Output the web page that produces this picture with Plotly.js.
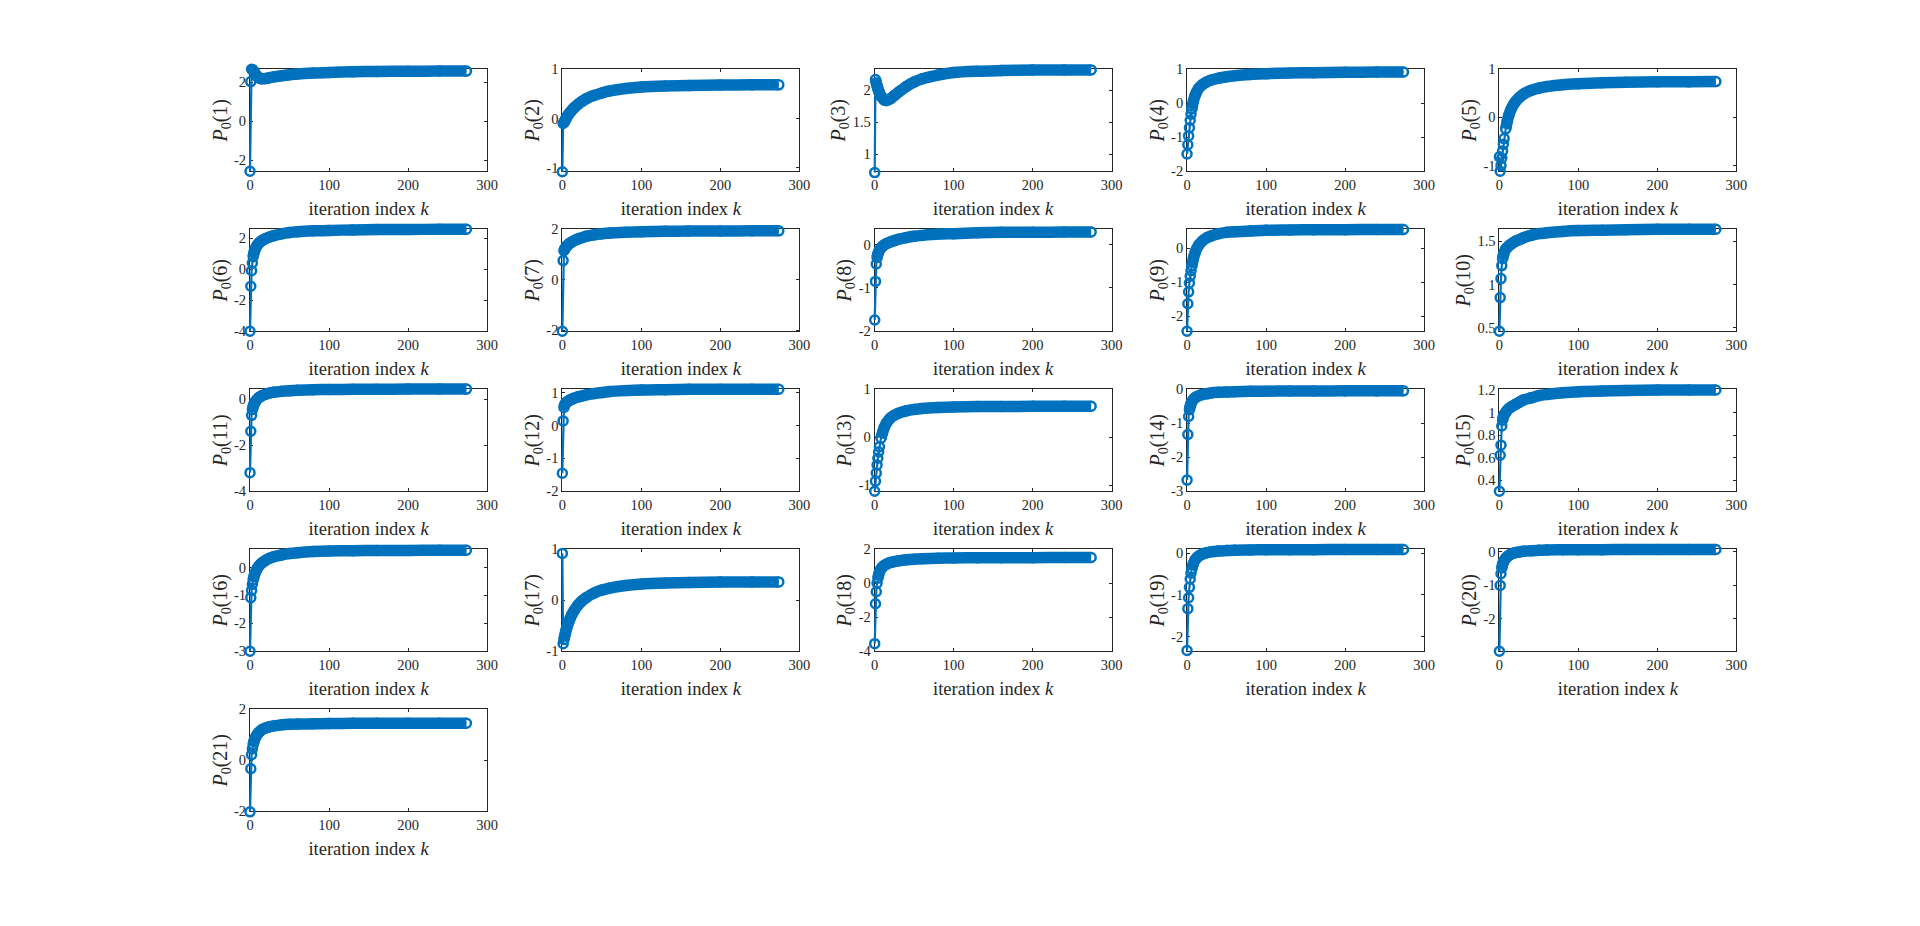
<!DOCTYPE html>
<html>
<head>
<meta charset="utf-8">
<script src="https://cdn.plot.ly/plotly-3.0.1.min.js"></script>
<style>html,body{margin:0;padding:0;background:#fff;}#plot{width:1920px;height:926px;}</style>
</head>
<body>
<div id="plot"></div>
<script>
// iteration indices at which values were read
const K = [0,1,2,3,4,5,6,8,10,12,15,20,25,30,40,50,60,80,100,130,160,200,240,274];

const P01 = [-2.57,2.03,2.66,2.64,2.60,2.54,2.47,2.35,2.26,2.21,2.18,2.19,2.23,2.27,2.33,2.38,2.42,2.47,2.50,2.53,2.55,2.56,2.57,2.57];
const P02 = [-1.08,-0.10,-0.08,-0.05,-0.02,0.01,0.04,0.09,0.13,0.17,0.22,0.29,0.35,0.40,0.47,0.52,0.56,0.61,0.64,0.66,0.67,0.68,0.685,0.685];
const P03 = [0.71,2.17,2.12,2.07,2.03,1.99,1.96,1.91,1.88,1.85,1.84,1.87,1.92,1.97,2.06,2.13,2.18,2.24,2.28,2.30,2.31,2.32,2.32,2.32];
const P04 = [-1.49,-1.22,-0.96,-0.72,-0.50,-0.32,-0.17,0.06,0.22,0.33,0.45,0.56,0.63,0.68,0.74,0.78,0.81,0.85,0.87,0.89,0.90,0.91,0.92,0.92];
const P05 = [-0.82,-1.12,-1.00,-0.85,-0.70,-0.56,-0.44,-0.24,-0.08,0.05,0.18,0.32,0.41,0.48,0.56,0.61,0.64,0.68,0.70,0.72,0.73,0.74,0.74,0.745];
const P06 = [-4.00,-1.10,-0.10,0.40,0.80,1.05,1.22,1.45,1.60,1.72,1.84,1.98,2.08,2.16,2.28,2.36,2.41,2.47,2.50,2.53,2.55,2.56,2.57,2.57];
const P07 = [-2.04,0.76,1.15,1.22,1.27,1.31,1.35,1.41,1.46,1.50,1.55,1.62,1.67,1.72,1.78,1.82,1.85,1.88,1.90,1.92,1.93,1.93,1.94,1.94];
const P08 = [-1.74,-0.85,-0.45,-0.30,-0.22,-0.17,-0.13,-0.08,-0.04,-0.01,0.02,0.06,0.09,0.12,0.16,0.19,0.21,0.24,0.25,0.27,0.28,0.28,0.29,0.29];
const P09 = [-2.44,-1.63,-1.28,-1.02,-0.82,-0.66,-0.52,-0.30,-0.14,-0.02,0.10,0.23,0.31,0.36,0.43,0.47,0.49,0.51,0.53,0.54,0.55,0.55,0.555,0.555];
const P10 = [0.46,0.85,1.07,1.22,1.30,1.34,1.37,1.41,1.43,1.45,1.47,1.50,1.52,1.54,1.57,1.59,1.60,1.615,1.625,1.63,1.635,1.64,1.64,1.64];
const P11 = [-3.19,-1.39,-0.70,-0.45,-0.32,-0.22,-0.15,-0.05,0.03,0.09,0.15,0.22,0.27,0.30,0.34,0.37,0.39,0.41,0.42,0.43,0.43,0.44,0.44,0.44];
const P12 = [-1.45,0.14,0.55,0.63,0.67,0.70,0.72,0.75,0.78,0.80,0.83,0.87,0.90,0.93,0.97,1.00,1.03,1.06,1.08,1.09,1.10,1.10,1.10,1.10];
const P13 = [-1.13,-0.92,-0.75,-0.58,-0.44,-0.31,-0.20,-0.02,0.10,0.20,0.30,0.40,0.46,0.50,0.55,0.58,0.60,0.62,0.63,0.64,0.64,0.645,0.645,0.645];
const P14 = [-2.67,-1.33,-0.80,-0.60,-0.50,-0.42,-0.37,-0.30,-0.25,-0.22,-0.19,-0.15,-0.13,-0.11,-0.09,-0.08,-0.07,-0.06,-0.055,-0.05,-0.05,-0.045,-0.045,-0.045];
const P15 = [0.30,0.62,0.71,0.88,0.93,0.96,0.98,1.00,1.02,1.035,1.05,1.07,1.09,1.11,1.13,1.15,1.16,1.175,1.185,1.19,1.195,1.20,1.20,1.20];
const P16 = [-3.00,-1.08,-0.82,-0.60,-0.45,-0.33,-0.24,-0.10,0.00,0.08,0.16,0.26,0.33,0.38,0.45,0.50,0.53,0.57,0.59,0.60,0.61,0.61,0.615,0.615];
const P17 = [0.92,-0.85,-0.77,-0.70,-0.63,-0.57,-0.52,-0.43,-0.35,-0.28,-0.20,-0.09,-0.01,0.05,0.14,0.20,0.24,0.29,0.32,0.34,0.35,0.36,0.36,0.36];
const P18 = [-3.55,-1.20,-0.50,0.00,0.30,0.50,0.65,0.85,0.97,1.05,1.13,1.22,1.28,1.32,1.38,1.42,1.44,1.47,1.49,1.50,1.51,1.51,1.52,1.52];
const P19 = [-2.33,-1.33,-1.07,-0.82,-0.62,-0.48,-0.38,-0.25,-0.17,-0.12,-0.07,-0.02,0.01,0.03,0.05,0.06,0.07,0.075,0.08,0.08,0.08,0.085,0.085,0.085];
const P20 = [-2.97,-1.00,-0.65,-0.48,-0.38,-0.31,-0.26,-0.19,-0.14,-0.10,-0.06,-0.02,0.00,0.02,0.04,0.05,0.06,0.065,0.07,0.07,0.075,0.075,0.075,0.075];
const P21 = [-2.02,-0.33,0.22,0.45,0.62,0.74,0.83,0.96,1.05,1.12,1.20,1.27,1.32,1.35,1.39,1.41,1.42,1.43,1.44,1.45,1.45,1.45,1.455,1.455];

const SERIES = [P01,P02,P03,P04,P05,P06,P07,P08,P09,P10,P11,P12,P13,P14,P15,P16,P17,P18,P19,P20,P21];

// y-axis limits and ticks of each panel
const YLIM = [[-2.57,2.66],[-1.07,1],[0.73,2.33],[-2,1],[-1.12,1],
              [-4,2.57],[-2.04,2],[-2,0.35],[-2.44,0.56],[0.46,1.64],
              [-4,0.43],[-2,1.1],[-1.13,1],[-3,0],[0.3,1.206],
              [-3,0.65],[-1,1],[-4,2],[-2.35,0.09],[-2.97,0.08],
              [-2,2]];
const YTICKS = [[-2,0,2],[-1,0,1],[1,1.5,2],[-2,-1,0,1],[-1,0,1],
                [-4,-2,0,2],[-2,0,2],[-2,-1,0],[-2,-1,0],[0.5,1,1.5],
                [-4,-2,0],[-2,-1,0,1],[-1,0,1],[-3,-2,-1,0],[0.4,0.6,0.8,1,1.2],
                [-3,-2,-1,0],[-1,0,1],[-4,-2,0,2],[-2,-1,0],[-2,-1,0],
                [-2,0,2]];
const XLIM = [0,300];
const XTICKS = [0,100,200,300];

const W = 1920, H = 926;
const COLOR = '#0072BD', AX = '#262626';
const AXW = 237, AXH = 102, PAD = 16;
const FONT = 'Liberation Serif, Times New Roman, serif';

const layout = {
  width: W, height: H, autosize: false,
  margin: {l:0, r:0, t:0, b:0, pad:0},
  paper_bgcolor: '#ffffff', plot_bgcolor: 'rgba(0,0,0,0)',
  showlegend: false, hovermode: false
};
const traces = [];

SERIES.forEach((P, i) => {
  const n = i + 1;
  const r = Math.floor(i / 5), c = i % 5;
  const left = 250 + 312.35 * c;
  const top = 69.3 + 160 * r;
  const bottomFromBottom = H - (top + AXH);
  const ylim = YLIM[i];
  const yspan = ylim[1] - ylim[0];
  const xspan = XLIM[1] - XLIM[0];

  const sx = n === 1 ? '' : String(n);
  layout['xaxis' + sx] = {
    domain: [left / W, (left + AXW) / W], anchor: 'y' + sx,
    range: XLIM, tickvals: XTICKS, ticktext: XTICKS.map(String),
    ticks: 'inside', ticklen: 3, tickwidth: 1, tickcolor: AX,
    showline: true, linecolor: AX, linewidth: 1, mirror: 'ticks',
    showgrid: false, zeroline: false, fixedrange: true,
    tickfont: {family: FONT, size: 14.5, color: AX},
    title: {text: 'iteration index <i>k</i>', font: {family: FONT, size: 18.5, color: AX}, standoff: 10}
  };
  layout['yaxis' + sx] = {
    domain: [bottomFromBottom / H, (H - top) / H], anchor: 'x' + sx,
    range: ylim, tickvals: YTICKS[i], ticktext: YTICKS[i].map(String),
    ticks: 'inside', ticklen: 3, tickwidth: 1, tickcolor: AX,
    showline: true, linecolor: AX, linewidth: 1, mirror: 'ticks',
    showgrid: false, zeroline: false, fixedrange: true,
    tickfont: {family: FONT, size: 14.5, color: AX},
    title: {text: '<i>P</i><sub>0</sub>(' + n + ')', font: {family: FONT, size: 20, color: AX}, standoff: 1}
  };
  traces.push({type: 'scatter', x: [], y: [], xaxis: 'x' + sx, yaxis: 'y' + sx, showlegend: false});

  // unclipped data layer with identical scale
  const m = n + 21;
  const padX = PAD * xspan / AXW, padY = PAD * yspan / AXH;
  layout['xaxis' + m] = {
    domain: [(left - PAD) / W, (left + AXW + PAD) / W], anchor: 'y' + m,
    range: [XLIM[0] - padX, XLIM[1] + padX], visible: false, fixedrange: true
  };
  layout['yaxis' + m] = {
    domain: [(bottomFromBottom - PAD) / H, (H - top + PAD) / H], anchor: 'x' + m,
    range: [ylim[0] - padY, ylim[1] + padY], visible: false, fixedrange: true
  };

  // dense part of the run: where consecutive iterates move less than ~4 px per step
  const pxPerY = AXH / yspan;
  let b = P.length - 1;
  for (let j = P.length - 2; j >= 0; j--) {
    const step = Math.abs(P[j + 1] - P[j]) * pxPerY / (K[j + 1] - K[j]);
    if (step < 4) b = j; else break;
  }
  traces.push({
    type: 'scatter', mode: 'lines', x: K.slice(b), y: P.slice(b),
    xaxis: 'x' + m, yaxis: 'y' + m,
    line: {color: COLOR, width: 11.5, shape: 'spline', smoothing: 0.8},
    showlegend: false, hoverinfo: 'skip'
  });
  traces.push({
    type: 'scatter', mode: 'lines+markers', x: K, y: P,
    xaxis: 'x' + m, yaxis: 'y' + m,
    line: {color: COLOR, width: 2.2},
    marker: {symbol: 'circle-open', size: 9, color: COLOR, line: {width: 2.5, color: COLOR}},
    cliponaxis: false, showlegend: false, hoverinfo: 'skip'
  });
});

Plotly.newPlot('plot', traces, layout, {staticPlot: true, displayModeBar: false});
</script>
</body>
</html>
